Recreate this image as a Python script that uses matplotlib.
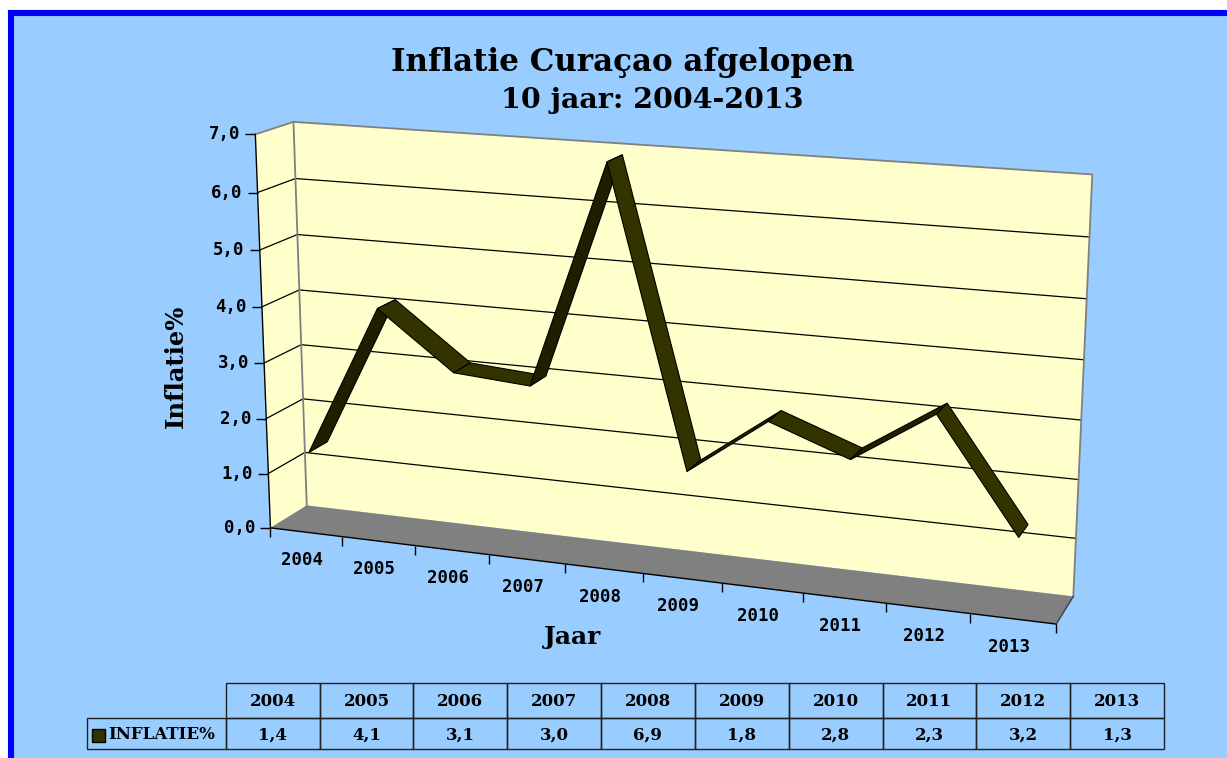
import numpy as np
import matplotlib
matplotlib.use("Agg")
import matplotlib.pyplot as plt
import matplotlib.transforms as mtransforms
from matplotlib.transforms import Transform
from matplotlib.patches import Polygon, Rectangle

# ---------------- data ----------------
years = ['2004', '2005', '2006', '2007', '2008', '2009', '2010', '2011', '2012', '2013']
inflation = [1.4, 4.1, 3.1, 3.0, 6.9, 1.8, 2.8, 2.3, 3.2, 1.3]
y_ticks = [0, 1, 2, 3, 4, 5, 6, 7]
y_tick_labels = ['0,0', '1,0', '2,0', '3,0', '4,0', '5,0', '6,0', '7,0']
title_line1 = 'Inflatie Curaçao afgelopen'
title_line2 = '10 jaar: 2004-2013'
x_label = 'Jaar'
y_label = 'Inflatie%'
series_label = 'INFLATIE%'
table_values = ['1,4', '4,1', '3,1', '3,0', '6,9', '1,8', '2,8', '2,3', '3,2', '1,3']

# ---------------- style ----------------
BG = '#99CCFF'
BORDER = '#0000FF'
WALL = '#FFFFCC'
FLOOR = '#808080'
EDGE = '#808080'
RIB_TOP = '#333300'
RIB_SIDE = '#1F1F00'
SERIF = 'DejaVu Serif'
MONO = 'DejaVu Sans Mono'

W, H = 1227, 758
fig = plt.figure(figsize=(W / 100, H / 100), dpi=100, facecolor='white')
ax = fig.add_axes([0, 0, 1, 1])
ax.set_xlim(0, W)
ax.set_ylim(H, 0)
ax.set_autoscale_on(False)
ax.axis('off')

# ---------------- 3D perspective projection (fitted to the chart box) -------------
n_cat = len(years)
y_max = max(y_ticks)
box_world = np.array([[0, 0, 0], [0, y_max, 0], [n_cat, 0, 0],
                      [0, 0, 1], [0, y_max, 1], [n_cat, y_max, 1], [n_cat, 0, 1]], float)
box_px = np.array([[270.5, 527.8], [255.5, 134.0], [1056.0, 624.5],
                   [306.7, 505.5], [293.3, 122.2], [1092.3, 174.5], [1073.5, 596.0]])
wn = box_world / np.array([n_cat, y_max, 1.0])
pn = box_px / 1000.0
rows = []
for (X, Y, Z), (u, v) in zip(wn, pn):
    rows.append([X, Y, Z, 1, 0, 0, 0, 0, -u * X, -u * Y, -u * Z, -u])
    rows.append([0, 0, 0, 0, X, Y, Z, 1, -v * X, -v * Y, -v * Z, -v])
_, _, Vt = np.linalg.svd(np.array(rows))
Pn = Vt[-1].reshape(3, 4)
P = np.diag([1000.0, 1000.0, 1.0]) @ Pn @ np.diag([1.0 / n_cat, 1.0 / y_max, 1.0, 1.0])


class Persp(Transform):
    input_dims = 2
    output_dims = 2
    is_separable = False
    has_inverse = False

    def __init__(self, lift):
        super().__init__()
        self._lift = lift

    def transform_non_affine(self, values):
        v = np.asarray(values, float).reshape(-1, 2)
        w = self._lift(v[:, 0], v[:, 1])
        h = np.c_[w, np.ones(len(w))] @ P.T
        return h[:, :2] / h[:, 2:3]


def plane_z(z):      # inputs (x, y)
    return Persp(lambda a, b: np.c_[a, b, np.full_like(a, z)]) + ax.transData


def plane_x(x):      # inputs (z, y)
    return Persp(lambda a, b: np.c_[np.full_like(a, x), b, a]) + ax.transData


def plane_y(y):      # inputs (x, z)
    return Persp(lambda a, b: np.c_[a, np.full_like(a, y), b]) + ax.transData


def plane_seg(x0, y0, x1, y1):   # inputs (x, z), y follows the segment
    s = (y1 - y0) / (x1 - x0)
    return Persp(lambda a, b: np.c_[a, y0 + (a - x0) * s, b]) + ax.transData


# ---------------- background frame ----------------
ax.add_patch(Rectangle((11, 13), W + 40, H + 40, facecolor=BG, edgecolor=BORDER,
                       linewidth=4.4, zorder=0))

# walls and floor
ax.add_patch(Polygon([(0, 0), (1, 0), (1, y_max), (0, y_max)], closed=True,
                     transform=plane_x(0), facecolor=WALL, edgecolor='none', zorder=1))
ax.add_patch(Polygon([(0, 0), (n_cat, 0), (n_cat, y_max), (0, y_max)], closed=True,
                     transform=plane_z(1), facecolor=WALL, edgecolor='none', zorder=1))
ax.add_patch(Polygon([(0, 0), (n_cat, 0), (n_cat, 1), (0, 1)], closed=True,
                     transform=plane_y(0), facecolor=FLOOR, edgecolor='none', zorder=1))

# gridlines
for yv in y_ticks[1:-1]:
    ax.plot([0, 1], [yv, yv], transform=plane_x(0), color='black', lw=0.9, zorder=2)
    ax.plot([0, n_cat], [yv, yv], transform=plane_z(1), color='black', lw=0.9, zorder=2)

# wall edges
ax.plot([0, 1], [y_max, y_max], transform=plane_x(0), color=EDGE, lw=1.3, zorder=2)
ax.plot([0, n_cat, n_cat], [y_max, y_max, 0], transform=plane_z(1), color=EDGE, lw=1.3, zorder=2)
ax.plot([0, 0], [0, y_max], transform=plane_z(1), color=EDGE, lw=1.3, zorder=2)
# floor edges
ax.plot([0, n_cat], [0, 0], transform=plane_z(0), color='black', lw=1.0, zorder=3)
ax.plot([n_cat, n_cat], [0, 1], transform=plane_y(0), color='#404040', lw=1.0, zorder=3)

# value axis
ax.plot([0, 0], [0, y_max], transform=plane_z(0), color='black', lw=1.0, zorder=3)
ax.plot([0] * len(y_ticks), y_ticks, transform=plane_z(0), ls='none', marker=0,
        ms=7.5, mew=1.0, color='black', zorder=3)
ylab_tr = mtransforms.offset_copy(plane_z(0), fig=fig, x=-15, y=0, units='dots')
for yv, lab in zip(y_ticks, y_tick_labels):
    ax.text(0, yv, lab, transform=ylab_tr, ha='right', va='center', family=MONO,
            fontweight='bold', fontsize=12.5, color='black')

# category axis
ax.plot(list(range(n_cat + 1)), [0] * (n_cat + 1), transform=plane_z(0), ls='none',
        marker=3, ms=6.5, mew=1.0, color='black', zorder=3)
xlab_tr = mtransforms.offset_copy(plane_z(0), fig=fig, x=-4, y=-28, units='dots')
for i, yr in enumerate(years):
    ax.text(i + 0.5, 0, yr, transform=xlab_tr, ha='center', va='center', family=MONO,
            fontweight='bold', fontsize=12.5, color='black')

# ---------------- 3D ribbon line ----------------
z_front, z_back = 0.15, 0.66
xc = [i + 0.5 for i in range(n_cat)]
for i in range(n_cat - 1):
    x0, x1 = xc[i], xc[i + 1]
    y0, y1 = inflation[i], inflation[i + 1]
    col = RIB_SIDE if y1 > y0 else RIB_TOP
    ax.add_patch(Polygon([(x0, z_front), (x1, z_front), (x1, z_back), (x0, z_back)],
                         closed=True, transform=plane_seg(x0, y0, x1, y1),
                         facecolor=col, edgecolor='black', lw=0.8, zorder=5))

# ---------------- titles ----------------
ax.text(623, 62, title_line1, ha='center', va='center', family=SERIF,
        fontweight='bold', fontsize=22.3, color='black')
ax.text(652, 101, title_line2, ha='center', va='center', family=SERIF,
        fontweight='bold', fontsize=20.5, color='black')
ax.text(573, 637, x_label, ha='center', va='center', family=SERIF,
        fontweight='bold', fontsize=18, color='black')
ax.text(176, 366, y_label, ha='center', va='center', rotation=90, family=SERIF,
        fontweight='bold', fontsize=17.5, color='black')

# ---------------- data table ----------------
tab_left, tab_lab_left = 225.7, 87.3
cell_w = (1164.0 - tab_left) / n_cat
r_top, r_mid, r_bot = 683.3, 717.7, 749.0
tcol = '#222222'
for i, (yr, val) in enumerate(zip(years, table_values)):
    xl = tab_left + i * cell_w
    ax.add_patch(Rectangle((xl, r_top), cell_w, r_mid - r_top, facecolor='none',
                           edgecolor=tcol, lw=1.0, zorder=3))
    ax.add_patch(Rectangle((xl, r_mid), cell_w, r_bot - r_mid, facecolor='none',
                           edgecolor=tcol, lw=1.0, zorder=3))
    ax.text(xl + cell_w / 2, (r_top + r_mid) / 2 + 1, yr, ha='center', va='center',
            family=SERIF, fontweight='bold', fontsize=12, color='black')
    ax.text(xl + cell_w / 2, (r_mid + r_bot) / 2 + 1.5, val, ha='center', va='center',
            family=SERIF, fontweight='bold', fontsize=12, color='black')
ax.add_patch(Rectangle((tab_lab_left, r_mid), tab_left - tab_lab_left, r_bot - r_mid,
                       facecolor='none', edgecolor=tcol, lw=1.0, zorder=3))
ax.add_patch(Rectangle((92, 729), 12.5, 13, facecolor=RIB_TOP, edgecolor='black',
                       lw=1.0, zorder=4))
ax.text(108, (r_mid + r_bot) / 2 + 1.5, series_label, ha='left', va='center',
        family=SERIF, fontweight='bold', fontsize=12, color='black')

fig.savefig('out.png', dpi=100, facecolor='white')
